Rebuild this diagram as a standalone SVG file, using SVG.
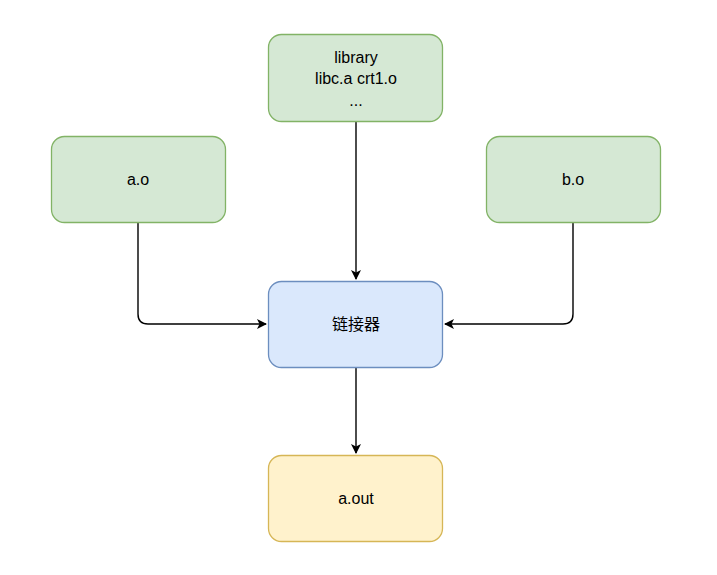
<svg xmlns="http://www.w3.org/2000/svg" width="717" height="575" viewBox="0 0 717 575">
<style>
.g{fill:#d5e8d4;stroke:#82b366;stroke-width:1.3}
.b{fill:#dae8fc;stroke:#6c8ebf;stroke-width:1.3}
.y{fill:#fff2cc;stroke:#d6b656;stroke-width:1.3}
text{font-family:"Liberation Sans","Noto Sans CJK SC",sans-serif;font-size:16px;fill:#000;text-anchor:middle}
.e{fill:none;stroke:#000;stroke-width:1.4}
</style>
<defs>
<marker id="ar" viewBox="0 0 10 10" refX="9" refY="5" markerWidth="10" markerHeight="10" markerUnits="userSpaceOnUse" orient="auto">
<path d="M0,0 L10,5 L0,10 L2.5,5 Z" fill="#000"/>
</marker>
</defs>
<rect width="717" height="575" fill="#fff"/>
<g id="connectors">
<path class="e" d="M356,121 V279" marker-end="url(#ar)"/>
<path class="e" d="M138,222 V314 Q138,324 148,324 H266" marker-end="url(#ar)"/>
<path class="e" d="M573,222 V314 Q573,324 563,324 H445" marker-end="url(#ar)"/>
<path class="e" d="M356,368 V453" marker-end="url(#ar)"/>
</g>
<g id="library">
<rect class="g" x="268.5" y="34.5" width="174" height="87" rx="13"/>
<text x="356" y="63">library</text>
<text x="356" y="84">libc.a crt1.o</text>
<text x="356" y="106">...</text>
</g>
<g id="ao">
<rect class="g" x="51.5" y="136.5" width="174" height="86" rx="13"/>
<text x="138" y="185">a.o</text>
</g>
<g id="bo">
<rect class="g" x="486.5" y="136.5" width="174" height="86" rx="13"/>
<text x="573" y="185">b.o</text>
</g>
<g id="linker">
<rect class="b" x="268.5" y="281.5" width="174" height="86" rx="13"/>
<text x="356" y="330">链接器</text>
</g>
<g id="aout">
<rect class="y" x="268.5" y="455.5" width="174" height="86" rx="13"/>
<text x="356" y="504">a.out</text>
</g>
</svg>
